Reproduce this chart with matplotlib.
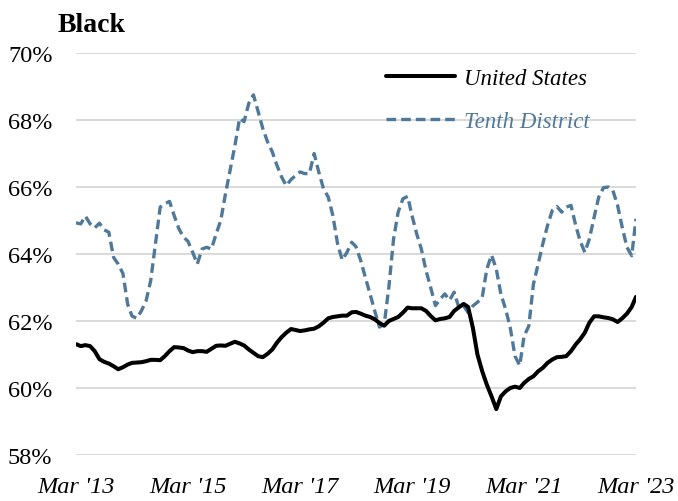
import matplotlib
matplotlib.use("Agg")
import matplotlib.pyplot as plt
import numpy as np
import pandas as pd

# monthly values, Mar 2013 .. Mar 2023
us = [
    61.31, 61.25, 61.28, 61.25, 61.10, 60.86, 60.78, 60.73, 60.65, 60.56,
    60.62, 60.70, 60.75, 60.76, 60.77, 60.80, 60.84, 60.84, 60.83, 60.95,
    61.10, 61.22, 61.21, 61.19, 61.12, 61.07, 61.10, 61.10, 61.08, 61.17,
    61.26, 61.27, 61.26, 61.32, 61.38, 61.33, 61.27, 61.15, 61.05, 60.95,
    60.92, 61.02, 61.15, 61.35, 61.52, 61.65, 61.76, 61.73, 61.70, 61.72,
    61.75, 61.77, 61.84, 61.95, 62.08, 62.12, 62.14, 62.16, 62.16, 62.26,
    62.27, 62.22, 62.16, 62.12, 62.05, 61.94, 61.86, 62.00, 62.06, 62.12,
    62.25, 62.40, 62.38, 62.38, 62.38, 62.30, 62.15, 62.02, 62.06, 62.08,
    62.12, 62.30, 62.41, 62.51, 62.42, 61.80, 61.00, 60.50, 60.10, 59.75,
    59.37, 59.75, 59.90, 60.00, 60.04, 60.00, 60.15, 60.27, 60.35, 60.50,
    60.60, 60.75, 60.85, 60.92, 60.93, 60.95, 61.10, 61.30, 61.45, 61.65,
    61.95, 62.14, 62.14, 62.11, 62.09, 62.05, 61.97, 62.08, 62.22, 62.42,
    62.72,
]
tenth = [
    64.93, 64.90, 65.13, 64.90, 64.78, 64.92, 64.72, 64.65, 63.90, 63.70,
    63.42, 62.50, 62.15, 62.08, 62.30, 62.60, 63.20, 64.30, 65.40, 65.50,
    65.57, 65.15, 64.75, 64.50, 64.38, 64.05, 63.70, 64.15, 64.20, 64.15,
    64.60, 65.00, 65.80, 66.50, 67.23, 68.05, 67.95, 68.50, 68.75, 68.25,
    67.75, 67.35, 67.05, 66.65, 66.30, 66.04, 66.22, 66.35, 66.45, 66.40,
    66.40, 67.00, 66.45, 65.95, 65.70, 65.15, 64.30, 63.82, 64.05, 64.35,
    64.22, 63.80, 63.30, 62.80, 62.30, 61.82, 61.90, 63.00, 64.45, 65.25,
    65.65, 65.72, 65.15, 64.60, 64.15, 63.50, 63.00, 62.46, 62.65, 62.81,
    62.62, 62.86, 62.40, 62.45, 62.25, 62.45, 62.56, 62.70, 63.55, 63.97,
    63.55, 62.80, 62.35, 61.80, 60.95, 60.67, 61.55, 61.85, 63.10, 63.70,
    64.30, 64.85, 65.30, 65.42, 65.25, 65.40, 65.45, 64.85, 64.40, 64.05,
    64.45, 65.10, 65.70, 65.98, 66.00, 65.90, 65.45, 64.80, 64.20, 63.95,
    65.05,
]
months = pd.date_range("2013-03-01", periods=len(us), freq="MS")
tick_months = months[::24]
tick_labels = [d.strftime("%b '%y") for d in tick_months]
y_ticks = [58, 60, 62, 64, 66, 68, 70]

BLUE = "#4f7899"
plt.rcParams["font.family"] = ["Liberation Serif", "DejaVu Serif"]

fig = plt.figure(figsize=(6.78, 5.02), dpi=100)
ax = fig.add_axes([76 / 678, 46 / 502, 560 / 678, 402 / 502])

ax.plot(months, us, color="black", linewidth=2.9, label="United States",
        solid_joinstyle="round", solid_capstyle="round", zorder=3)
ax.plot(months, tenth, color=BLUE, linewidth=2.4, linestyle=(0, (2.9, 1.5)),
        label="Tenth District", zorder=2)

ax.set_xlim(months[0], months[-1])
ax.set_ylim(58, 70)
ax.set_yticks(y_ticks)
ax.set_yticklabels([f"{v}%" for v in y_ticks])
ax.set_xticks(tick_months)
ax.set_xticklabels(tick_labels, style="italic")
ax.tick_params(axis="both", length=0, labelsize=17.5, colors="black")
ax.tick_params(axis="x", pad=15)
ax.tick_params(axis="y", pad=17)
ax.grid(axis="y", color="#d9d9d9", linewidth=1.4, zorder=0)
ax.set_axisbelow(True)
for side in ax.spines.values():
    side.set_visible(False)

fig.text(58 / 678, 1 - 32 / 502, "Black", fontsize=20, fontweight="bold")

ax.legend(loc="upper left", bbox_to_anchor=(386 / 678, 1 - 69 / 502),
          bbox_transform=fig.transFigure, frameon=False, borderpad=0,
          borderaxespad=0, handlelength=3.0, handletextpad=0.4,
          labelspacing=0.95, prop={"size": 16.5, "style": "italic"},
          labelcolor=["black", BLUE])

fig.savefig("out.png", dpi=100)
